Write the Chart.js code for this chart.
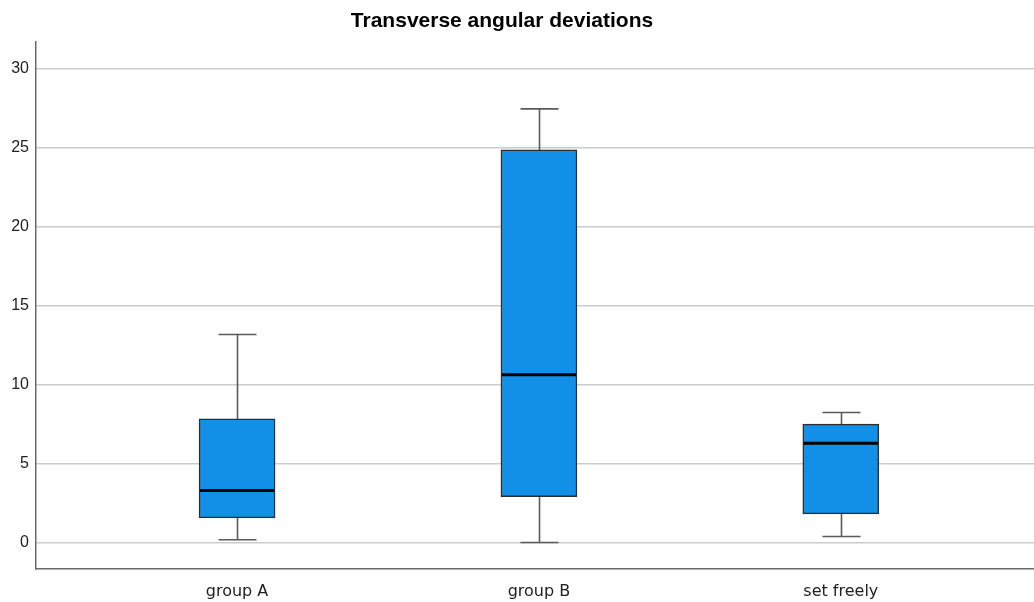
<!DOCTYPE html>
<html>
<head>
<meta charset="utf-8">
<script src="https://cdn.jsdelivr.net/npm/chart.js@4/dist/chart.umd.min.js"></script>
<style>
  html, body { margin: 0; padding: 0; background: #ffffff; }
  #wrap { width: 1034px; height: 602px; position: relative; }
</style>
</head>
<body>
<div id="wrap"><canvas id="chart"></canvas></div>
<script>
// Box-plot summary per group (degrees)
const categories   = ['group A', 'group B', 'set freely'];
const whiskerLow   = [0.21, 0.04, 0.42];
const quartile1    = [1.60, 2.94, 1.85];
const median       = [3.32, 10.66, 6.31];
const quartile3    = [7.86, 24.88, 7.53];
const whiskerHigh  = [13.20, 27.48, 8.26];
const yTickValues  = [0, 5, 10, 15, 20, 25, 30];
const categoryIdx  = [0, 1, 2];
const chartTitle   = 'Transverse angular deviations';

const BOX_WIDTH = 76;

// Whiskers behind the boxes, medians on top, title above the plot
const boxExtras = {
  id: 'boxExtras',
  beforeDatasetsDraw(chart) {
    const { ctx, scales: { x, y } } = chart;
    ctx.save();
    ctx.strokeStyle = '#5a5a5a';
    ctx.lineWidth = 1.6;
    categoryIdx.forEach(i => {
      const cx = Math.round(x.getPixelForValue(i)) + 0.5;
      const lo = y.getPixelForValue(whiskerLow[i]);
      const hi = y.getPixelForValue(whiskerHigh[i]);
      const half = BOX_WIDTH / 4;
      ctx.beginPath();
      ctx.moveTo(cx, lo); ctx.lineTo(cx, hi);
      ctx.moveTo(cx - half, lo); ctx.lineTo(cx + half, lo);
      ctx.moveTo(cx - half, hi); ctx.lineTo(cx + half, hi);
      ctx.stroke();
    });
    ctx.restore();
  },
  afterDatasetsDraw(chart) {
    const { ctx, scales: { x, y } } = chart;
    ctx.save();
    ctx.strokeStyle = '#000000';
    ctx.lineWidth = 3;
    categoryIdx.forEach(i => {
      const cx = x.getPixelForValue(i);
      const my = y.getPixelForValue(median[i]);
      ctx.beginPath();
      ctx.moveTo(cx - BOX_WIDTH / 2 + 1, my);
      ctx.lineTo(cx + BOX_WIDTH / 2 - 1, my);
      ctx.stroke();
    });
    ctx.restore();
  },
  afterDraw(chart) {
    const { ctx } = chart;
    ctx.save();
    ctx.fillStyle = '#000000';
    ctx.font = 'bold 21px "Liberation Sans", Arial, sans-serif';
    ctx.textAlign = 'center';
    ctx.textBaseline = 'alphabetic';
    ctx.fillText(chartTitle, 502, 27);
    ctx.restore();
  }
};

new Chart(document.getElementById('chart'), {
  type: 'bar',
  data: {
    datasets: [{
      data: categoryIdx.map(i => ({ x: i, y: [quartile1[i], quartile3[i]] })),
      backgroundColor: '#1290e8',
      borderColor: '#2e2e2e',
      borderWidth: 1.5,
      borderSkipped: false,
      barThickness: BOX_WIDTH
    }]
  },
  options: {
    responsive: true,
    maintainAspectRatio: false,
    animation: false,
    layout: { padding: { top: 42, left: 0, right: 0, bottom: 0 } },
    plugins: {
      legend: { display: false },
      tooltip: { enabled: false },
      title: { display: false }
    },
    scales: {
      x: {
        type: 'linear',
        min: -0.666,
        max: 2.64,
        offset: false,
        grid: { display: false, drawTicks: false },
        border: { display: true, color: '#6a6a6a', width: 1.5 },
        afterBuildTicks(scale) { scale.ticks = categoryIdx.map(v => ({ value: v })); },
        afterFit(scale) { scale.height = 33; },
        ticks: {
          autoSkip: false,
          maxRotation: 0,
          padding: 13,
          color: '#222222',
          font: { family: '"DejaVu Sans", sans-serif', size: 16 },
          callback: (v) => categories[v]
        }
      },
      y: {
        type: 'linear',
        min: -1.64,
        max: 31.71,
        grid: { color: '#cbcbcb', lineWidth: 1.5, drawTicks: false },
        border: { display: true, color: '#6a6a6a', width: 1.5 },
        afterBuildTicks(scale) { scale.ticks = yTickValues.map(v => ({ value: v })); },
        afterFit(scale) { scale.width = 36; },
        ticks: {
          padding: 7,
          color: '#222222',
          font: { family: '"Liberation Sans", Arial, sans-serif', size: 16 },
          callback: (v) => String(v)
        }
      }
    }
  },
  plugins: [boxExtras]
});
</script>
</body>
</html>
